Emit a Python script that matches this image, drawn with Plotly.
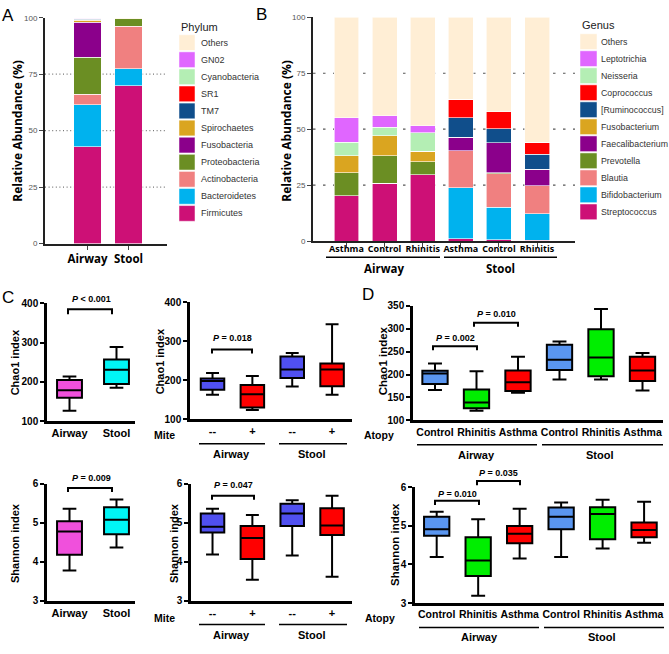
import plotly.graph_objects as go

W, H = 669, 654
def fx(x): return x / W
def fy(y): return 1 - y / H

# ---------------- Panel A data (Phylum) ----------------
sites = ["Airway", "Stool"]
phyla = ["Firmicutes", "Bacteroidetes", "Actinobacteria", "Proteobacteria", "Fusobacteria",
         "Spirochaetes", "TM7", "SR1", "Cyanobacteria", "GN02", "Others"]
phylum_colors = ["#CD1076", "#00B2EE", "#F08080", "#6B8E23", "#8B008B",
                 "#DAA520", "#104E8B", "#FF0000", "#B4EEB4", "#E066FF", "#FFEED5"]
phylum_airway = [42.8, 18.6, 4.8, 16.3, 15.6, 0.8, 0.4, 0.2, 0.1, 0.1, 0.3]
phylum_stool = [69.9, 7.6, 18.7, 3.4, 0.0, 0.0, 0.0, 0.0, 0.0, 0.0, 0.4]

# ---------------- Panel B data (Genus) ----------------
b_groups = ["Asthma", "Control", "Rhinitis", "Asthma", "Control", "Rhinitis"]
genera = ["Streptococcus", "Bifidobacterium", "Blautia", "Prevotella", "Faecalibacterium",
          "Fusobacterium", "[Ruminococcus]", "Coprococcus", "Neisseria", "Leptotrichia", "Others"]
genus_colors = ["#CD1076", "#00B2EE", "#F08080", "#6B8E23", "#8B008B",
                "#DAA520", "#104E8B", "#FF0000", "#B4EEB4", "#E066FF", "#FFEED5"]
streptococcus = [20.2, 25.9, 29.6, 1.0, 0.6, 0.4]
bifidobacterium = [0.0, 0.0, 0.0, 22.9, 14.6, 11.9]
blautia = [0.0, 0.0, 0.0, 16.4, 15.0, 12.4]
prevotella = [10.3, 12.3, 5.8, 0.0, 0.3, 0.0]
faecalibacterium = [0.0, 0.0, 0.0, 6.1, 13.4, 7.4]
fusobacterium = [7.6, 8.8, 4.7, 0.0, 0.0, 0.0]
ruminococcus = [0.0, 0.0, 0.0, 8.7, 6.2, 6.6]
coprococcus = [0.0, 0.0, 0.0, 8.3, 7.6, 5.4]
neisseria = [6.0, 3.8, 8.4, 0.0, 0.0, 0.0]
leptotrichia = [11.0, 5.1, 3.0, 0.0, 0.0, 0.0]
others_genus = [44.9, 44.1, 48.5, 36.6, 42.3, 55.9]
genus_series = [streptococcus, bifidobacterium, blautia, prevotella, faecalibacterium,
                fusobacterium, ruminococcus, coprococcus, neisseria, leptotrichia, others_genus]

# ---------------- Panel C data ----------------
site_colors = ["#F050DC", "#00F5F5"]
chao1_site_low = [127, 185]
chao1_site_q1 = [160, 195]
chao1_site_med = [179, 231]
chao1_site_q3 = [205, 257]
chao1_site_high = [214, 289]

shannon_site_low = [3.78, 4.37]
shannon_site_q1 = [4.18, 4.71]
shannon_site_med = [4.78, 5.08]
shannon_site_q3 = [5.04, 5.40]
shannon_site_high = [5.36, 5.60]

mite_labels = ["--", "+", "--", "+"]
mite_colors = ["#5050F0", "#FF0000", "#5050F0", "#FF0000"]
chao1_mite_low = [163, 124, 184, 163]
chao1_mite_q1 = [176, 130, 206, 185]
chao1_mite_med = [198, 164, 228, 228]
chao1_mite_q3 = [205, 188, 261, 243]
chao1_mite_high = [219, 211, 270, 344]

shannon_mite_low = [4.19, 3.54, 4.16, 3.62]
shannon_mite_q1 = [4.75, 4.07, 4.92, 4.69]
shannon_mite_med = [4.90, 4.61, 5.24, 4.93]
shannon_mite_q3 = [5.24, 4.92, 5.49, 5.37]
shannon_mite_high = [5.36, 5.20, 5.58, 5.69]

# ---------------- Panel D data ----------------
atopy_labels = ["Control", "Rhinitis", "Asthma", "Control", "Rhinitis", "Asthma"]
atopy_colors = ["#5A96F0", "#00EE00", "#FF0000", "#5A96F0", "#00EE00", "#FF0000"]
chao1_atopy_low = [166, 121, 160, 189, 189, 165]
chao1_atopy_q1 = [179, 126, 164, 210, 196, 186]
chao1_atopy_med = [202, 139, 183, 232, 237, 209]
chao1_atopy_q3 = [208, 167, 209, 265, 299, 239]
chao1_atopy_high = [224, 207, 239, 272, 343, 247]

shannon_atopy_low = [4.19, 3.19, 4.15, 4.19, 4.41, 4.56]
shannon_atopy_q1 = [4.74, 3.70, 4.55, 4.91, 4.65, 4.70]
shannon_atopy_med = [4.91, 4.10, 4.79, 5.23, 5.30, 4.89]
shannon_atopy_q3 = [5.23, 4.70, 4.99, 5.47, 5.48, 5.08]
shannon_atopy_high = [5.36, 5.17, 5.44, 5.60, 5.67, 5.62]

fig = go.Figure()

# ---------------- Bars ----------------
for i, name in enumerate(phyla):
    fig.add_trace(go.Bar(x=[0, 1], y=[phylum_airway[i], phylum_stool[i]], name=name,
                         marker=dict(color=phylum_colors[i], line=dict(color="white", width=0.6)),
                         width=0.66, xaxis="x", yaxis="y", showlegend=False, hoverinfo="skip"))
for i, name in enumerate(genera):
    fig.add_trace(go.Bar(x=list(range(6)), y=genus_series[i], name=name,
                         marker=dict(color=genus_colors[i], line=dict(color="white", width=0.6)),
                         width=0.656, xaxis="x2", yaxis="y2", showlegend=False, hoverinfo="skip"))

# ---------------- Boxes ----------------
def add_boxes(xa, ya, low, q1, med, q3, high, colors, width):
    for i in range(len(low)):
        fig.add_trace(go.Box(x=[i], lowerfence=[low[i]], q1=[q1[i]], median=[med[i]],
                             q3=[q3[i]], upperfence=[high[i]], fillcolor=colors[i],
                             line=dict(color="black", width=2), width=width, whiskerwidth=0.55,
                             xaxis=xa, yaxis=ya, showlegend=False, hoverinfo="skip"))

add_boxes("x3", "y3", chao1_site_low, chao1_site_q1, chao1_site_med, chao1_site_q3, chao1_site_high, site_colors, 0.53)
add_boxes("x4", "y4", chao1_mite_low, chao1_mite_q1, chao1_mite_med, chao1_mite_q3, chao1_mite_high, mite_colors, 0.59)
add_boxes("x5", "y5", shannon_site_low, shannon_site_q1, shannon_site_med, shannon_site_q3, shannon_site_high, site_colors, 0.53)
add_boxes("x6", "y6", shannon_mite_low, shannon_mite_q1, shannon_mite_med, shannon_mite_q3, shannon_mite_high, mite_colors, 0.59)
add_boxes("x7", "y7", chao1_atopy_low, chao1_atopy_q1, chao1_atopy_med, chao1_atopy_q3, chao1_atopy_high, atopy_colors, 0.61)
add_boxes("x8", "y8", shannon_atopy_low, shannon_atopy_q1, shannon_atopy_med, shannon_atopy_q3, shannon_atopy_high, atopy_colors, 0.61)

# ---------------- Axes ----------------
ARIAL = "Liberation Sans"
OPEN = "Open Sans"

def bar_x(dom, rng, labels, size, standoff=0):
    return dict(domain=dom, range=rng, tickvals=list(range(len(labels))), ticktext=labels,
                showline=True, linecolor="#222", linewidth=2, ticks="outside", ticklen=4,
                tickcolor="#444", tickwidth=1, showgrid=False, zeroline=False, tickangle=0,
                ticklabelstandoff=standoff,
                tickfont=dict(family=OPEN, size=size, color="black", weight="bold"), fixedrange=True)

def bar_y(dom):
    return dict(domain=dom, range=[0, 100], tickvals=[0, 25, 50, 75, 100],
                showline=True, linecolor="#222", linewidth=2, ticks="outside", ticklen=4,
                tickcolor="#444", tickwidth=1, showgrid=False, zeroline=False,
                tickfont=dict(family=ARIAL, size=8, color="#555"), fixedrange=True)

def box_x(dom, rng, labels, size):
    return dict(domain=dom, range=rng, tickvals=list(range(len(labels))), ticktext=labels,
                showline=True, linecolor="black", linewidth=2.5, ticks="", showgrid=False,
                zeroline=False, tickangle=0,
                tickfont=dict(family=ARIAL, size=size, color="black", weight="bold"),
                fixedrange=True)

def box_y(dom, rng, tv):
    return dict(domain=dom, range=rng, tickvals=tv, showline=True, linecolor="black",
                linewidth=2.5, ticks="outside", ticklen=4, tickwidth=2, tickcolor="black",
                showgrid=False, zeroline=False,
                tickfont=dict(family=ARIAL, size=10, color="black", weight="bold"), fixedrange=True)

layout = dict(
    width=W, height=H, autosize=False, margin=dict(l=0, r=0, t=0, b=0),
    paper_bgcolor="white", plot_bgcolor="white", barmode="stack", boxmode="overlay",
    xaxis=bar_x([fx(45), fx(167)], [-1.037, 1.939], sites, 11.5),
    yaxis=bar_y([fy(242), fy(12)]),
    xaxis2=bar_x([fx(313), fx(575)], [-0.879, 5.997], b_groups, 9, standoff=-6),
    yaxis2=dict(bar_y([fy(239.5), fy(11.5)]), anchor="x2"),
    xaxis3=box_x([fx(47), fx(135)], [-0.479, 1.394], sites, 11),
    yaxis3=box_y([fy(423), fy(303)], [100, 400], [100, 200, 300, 400]),
    xaxis4=box_x([fx(190), fx(352)], [-0.565, 3.5], mite_labels, 11),
    yaxis4=box_y([fy(421), fy(302)], [100, 400], [100, 200, 300, 400]),
    xaxis5=box_x([fx(47), fx(135)], [-0.479, 1.394], sites, 11),
    yaxis5=box_y([fy(606), fy(486.7)], [3, 6], [3, 4, 5, 6]),
    xaxis6=box_x([fx(191), fx(352)], [-0.54, 3.5], mite_labels, 11),
    yaxis6=box_y([fy(606), fy(486.7)], [3, 6], [3, 4, 5, 6]),
    xaxis7=box_x([fx(413), fx(663)], [-0.53, 5.494], atopy_labels, 10.5),
    yaxis7=box_y([fy(422), fy(305.5)], [100, 350], [100, 150, 200, 250, 300, 350]),
    xaxis8=box_x([fx(415), fx(664)], [-0.523, 5.48], atopy_labels, 10.5),
    yaxis8=box_y([fy(608.3), fy(490)], [3, 6], [3, 4, 5, 6]),
)
for k in range(2, 9):
    layout["xaxis%d" % k]["anchor"] = "y%d" % k
    layout["yaxis%d" % k]["anchor"] = "x%d" % k
fig.update_layout(**layout)

shapes = []
annotations = []

# gridlines A (dotted) and B (dashed)
for v in [25, 50, 75]:
    shapes.append(dict(type="line", xref="x domain", x0=0, x1=1, yref="y", y0=v, y1=v,
                       line=dict(color="#777", width=1.2, dash="1px,2.6px"), layer="below"))
    shapes.append(dict(type="line", xref="x2 domain", x0=0, x1=1, yref="y2", y0=v, y1=v,
                       line=dict(color="#555", width=1.2, dash="2.5px,7.5px"), layer="below"))

def ann(x, y, text, size, family=ARIAL, color="black", angle=0, xanchor="center", bold=False):
    annotations.append(dict(xref="paper", yref="paper", x=fx(x), y=fy(y), text=text,
                            showarrow=False, xanchor=xanchor, yanchor="middle", textangle=angle,
                            font=dict(family=family, size=size, color=color,
                                      weight="bold" if bold else "normal")))

def hline(x0, x1, y, w=1.5):
    shapes.append(dict(type="line", xref="paper", yref="paper", x0=fx(x0), x1=fx(x1),
                       y0=fy(y), y1=fy(y), line=dict(color="black", width=w)))

def bracket(x0, x1, y, y2, text, ty, tx=None):
    shapes.append(dict(type="path", xref="paper", yref="paper",
                       path="M %f,%f L %f,%f L %f,%f L %f,%f" % (fx(x0), fy(y2), fx(x0), fy(y),
                                                                 fx(x1), fy(y), fx(x1), fy(y2)),
                       line=dict(color="black", width=2)))
    ann(tx if tx is not None else (x0 + x1) / 2, ty, "<b><i>P</i> %s</b>" % text, 9)

# Panel letters
ann(8, 10, "A", 17)
ann(261, 9, "B", 17)
ann(8, 297, "C", 17)
ann(368, 294, "D", 17)

# Y-axis titles
ann(18, 127, "<b>Relative Abundance (%)</b>", 12, family=OPEN, angle=-90)
ann(287, 127, "<b>Relative Abundance (%)</b>", 12, family=OPEN, angle=-90)
ann(15, 363, "<b>Chao1 index</b>", 11, angle=-90)
ann(160, 362, "<b>Chao1 index</b>", 11, angle=-90)
ann(15, 547, "<b>Shannon index</b>", 11, angle=-90)
ann(174, 547, "<b>Shannon index</b>", 11, angle=-90)
ann(383, 362, "<b>Chao1 index</b>", 11.5, angle=-90)
ann(395, 549, "<b>Shannon index</b>", 11.5, angle=-90)

# Legends
ann(179, 21, "Phylum", 11, color="#222", xanchor="left")
for i, name in enumerate(reversed(phyla)):
    col = list(reversed(phylum_colors))[i]
    top = 29.3 + i * 17.4
    shapes.append(dict(type="rect", xref="paper", yref="paper", x0=fx(179), x1=fx(195),
                       y0=fy(top + 16), y1=fy(top), fillcolor=col, line=dict(color="white", width=0.5)))
    ann(199, top + 8, name, 9, color="#333", xanchor="left")
ann(580, 19, "Genus", 11, color="#222", xanchor="left")
for i, name in enumerate(reversed(genera)):
    col = list(reversed(genus_colors))[i]
    top = 28.3 + i * 17.34
    shapes.append(dict(type="rect", xref="paper", yref="paper", x0=fx(580), x1=fx(597),
                       y0=fy(top + 16), y1=fy(top), fillcolor=col, line=dict(color="white", width=0.5)))
    ann(599, top + 8, name, 8.8, color="#333", xanchor="left")

# Group underlines and labels (B)
hline(326, 440, 256)
hline(444, 557, 256)
ann(384, 267, "<b>Airway</b>", 11.5, family=OPEN)
ann(500, 267, "<b>Stool</b>", 11.5, family=OPEN)

# C mite panels
for yrow, yline, ylab in [(437, 446, 456), (623, 630, 641)]:
    ann(164, yrow, "<b>Mite</b>", 10.5)
    hline(199, 265, yline)
    hline(279, 347, yline)
    ann(231, ylab, "<b>Airway</b>", 11)
    ann(312, ylab, "<b>Stool</b>", 11)

# D atopy panels
ann(379, 437, "<b>Atopy</b>", 10.5)
hline(417, 537, 447)
hline(542, 663, 447)
ann(477, 457, "<b>Airway</b>", 11)
ann(600, 457, "<b>Stool</b>", 11)
ann(380, 623, "<b>Atopy</b>", 10.5)
hline(419, 539, 633)
hline(544, 664, 633)
ann(479, 643, "<b>Airway</b>", 11)
ann(602, 643, "<b>Stool</b>", 11)

# P-value brackets
bracket(68, 112, 309, 314, "&lt; 0.001", 298, 91)
bracket(68, 112, 491, 495, "= 0.009", 481, 91)
bracket(212, 252, 350, 354, "= 0.018", 338)
bracket(212, 254, 499, 503, "= 0.047", 488)
bracket(433, 477, 346.7, 350.7, "= 0.002", 338)
bracket(474, 518, 322.7, 326.7, "= 0.010", 314)
bracket(435, 479, 504, 508.3, "= 0.010", 497)
bracket(477, 520, 484, 488.3, "= 0.035", 476)

fig.update_layout(shapes=shapes, annotations=annotations)
fig.write_html("out.html", config={"displayModeBar": False},
               post_script="document.body.style.margin='0px';document.body.style.overflow='hidden';")
